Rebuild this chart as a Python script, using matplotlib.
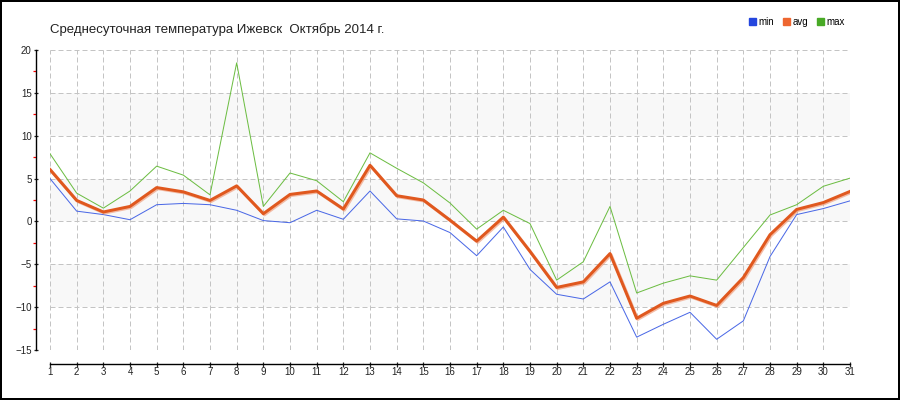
import matplotlib
matplotlib.use('Agg')
import matplotlib.pyplot as plt
import matplotlib.patheffects as pe
from matplotlib.patches import Patch, Rectangle
from matplotlib.ticker import MultipleLocator

days = list(range(1, 32))
t_min = [5.0, 1.2, 0.8, 0.2, 1.95, 2.1, 1.95, 1.3, 0.1, -0.15,
         1.3, 0.25, 3.55, 0.3, 0.05, -1.3, -4.0, -0.65, -5.6, -8.5,
         -9.05, -7.05, -13.5, -12.0, -10.6, -13.75, -11.6, -4.1, 0.8, 1.5,
         2.4]
t_avg = [6.05, 2.45, 1.1, 1.75, 3.95, 3.45, 2.45, 4.15, 0.9, 3.15,
         3.55, 1.45, 6.55, 3.0, 2.5, 0.15, -2.3, 0.5, -3.5, -7.7,
         -7.05, -3.75, -11.3, -9.55, -8.7, -9.8, -6.55, -1.55, 1.4, 2.2,
         3.5]
t_max = [7.9, 3.3, 1.55, 3.55, 6.45, 5.4, 3.1, 18.5, 1.75, 5.65,
         4.75, 2.3, 8.0, 6.2, 4.5, 2.15, -0.9, 1.3, -0.25, -6.85,
         -4.7, 1.75, -8.35, -7.2, -6.35, -6.85, -3.05, 0.75, 1.95, 4.1,
         5.05]
bands = [(10, 15), (0, 5), (-10, -5)]

title = 'Среднесуточная температура Ижевск  Октябрь 2014 г.'
c_min, c_avg, c_max = '#4a68e6', '#e0581e', '#6cbd42'

W, H = 900, 400
fig = plt.figure(figsize=(9, 4), dpi=100)
ax = fig.add_axes([50 / W, 50 / H, 800 / W, 300 / H])
ax.set_xlim(1, 31)
ax.set_ylim(-15, 20)

for lo, hi in bands:
    ax.axhspan(lo, hi, color='#f8f8f8', lw=0, zorder=0)

grid_kw = dict(color='#c4c4c4', lw=0.72, ls=(0, (5, 3)), zorder=1)
for d in days:
    ax.axvline(d, **grid_kw)
for v in range(-15, 21, 5):
    ax.axhline(v, **grid_kw)

px = 0.72
ax.plot(days, t_min, color=c_min, lw=px, zorder=3)
ax.plot(days, t_max, color=c_max, lw=px, zorder=3)
ax.plot(days, t_avg, color=c_avg, lw=3 * px, zorder=4,
        path_effects=[pe.SimpleLineShadow(offset=(0.8, -0.8), shadow_color='#f0a080', alpha=0.7),
                      pe.Normal()])

for s in ['top', 'right']:
    ax.spines[s].set_visible(False)
ax.spines['left'].set_position(('outward', 10))
ax.spines['bottom'].set_position(('outward', 10))
ax.spines['left'].set_linewidth(1.0)
ax.spines['bottom'].set_linewidth(1.0)

ax.set_xticks(days)
ax.set_yticks(range(-15, 21, 5))
ax.yaxis.set_minor_locator(MultipleLocator(2.5))
ax.tick_params(axis='x', direction='inout', length=3.6, width=0.9, pad=0.5,
               labelsize=7, colors='#222222')
ax.tick_params(axis='y', which='major', direction='inout', length=3.2, width=0.9, pad=1.5,
               labelsize=7, colors='#222222')
ax.tick_params(axis='y', which='minor', direction='out', length=2, width=0.9, color='red')
for lab in ax.get_xticklabels() + ax.get_yticklabels():
    lab.set_family('Liberation Sans')

fig.text(50 / W, 1 - 30 / H, title, ha='left', va='center', fontsize=9.5,
         family='Liberation Sans', color='#222222')

handles = [Patch(color='#2446de', label='min'),
           Patch(color='#ee6630', label='avg'),
           Patch(color='#48aa26', label='max')]
leg = fig.legend(handles=handles, loc='center', bbox_to_anchor=(797 / W, 1 - 22 / H),
                 ncol=3, frameon=False, fontsize=7, handlelength=0.7, handleheight=0.7,
                 handletextpad=0.3, columnspacing=0.9, borderaxespad=0)
for t in leg.get_texts():
    t.set_family('Liberation Sans')

fig.patches.append(Rectangle((0, 0), 1, 1, transform=fig.transFigure, fill=False,
                             lw=2.88, ec='black'))

fig.savefig('out.png', dpi=100)
